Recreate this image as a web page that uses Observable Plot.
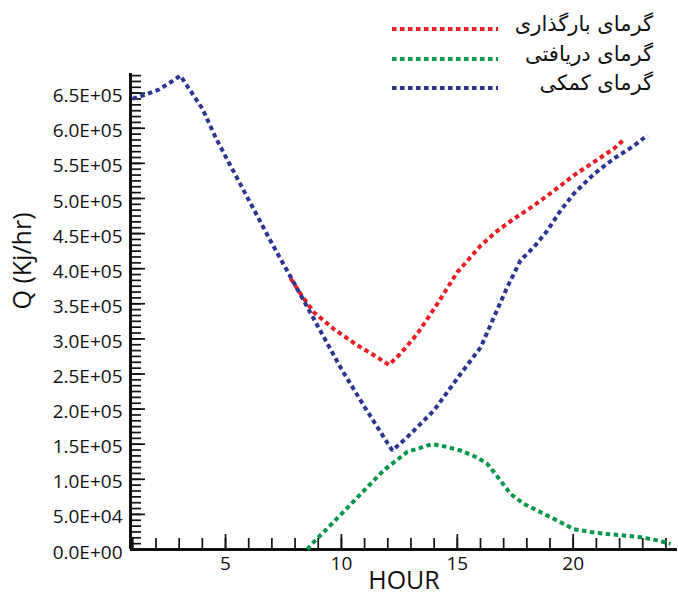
<!DOCTYPE html>
<html><head><meta charset="utf-8">
<script src="https://cdn.jsdelivr.net/npm/d3@7"></script>
<script src="https://cdn.jsdelivr.net/npm/@observablehq/plot@0.6"></script>
<style>
html,body{margin:0;padding:0;background:#fff;}
#wrap{position:relative;width:678px;height:596px;overflow:hidden;}
.leg-row{position:absolute;left:0;width:678px;height:30px;}
.leg-text{position:absolute;right:25px;font-family:'DejaVu Sans',sans-serif;font-size:21px;line-height:30px;direction:rtl;white-space:nowrap;color:#111;}
</style></head><body><div id="wrap"></div>
<script>
// ---- data ----
const seriesNames = ["گرمای بارگذاری", "گرمای دریافتی", "گرمای کمکی"];
const seriesColors = ["#ec1c24", "#00964b", "#2b3590"];

const redHours  = [7.81, 8.24, 8.81, 9.67, 10.68, 11.54, 12.05, 12.55, 13.27, 14.14, 15.0, 16.01, 16.73, 17.44, 18.31, 19.17, 20.03, 20.9, 21.76, 22.19];
const redValues = [386000, 364000, 338000, 314000, 291000, 274000, 263000, 279000, 307000, 350000, 395000, 433000, 454000, 471000, 490000, 511000, 533000, 552000, 571000, 584000];

const greenHours  = [8.53, 8.67, 9.6, 11.83, 12.84, 13.9, 14.3, 15.14, 15.86, 16.29, 16.87, 17.3, 17.87, 18.6, 19.32, 20.03, 20.75, 21.47, 22.19, 22.91, 23.63, 24.2];
const greenValues = [0, 6000, 37000, 113000, 139000, 150000, 148000, 141000, 131000, 122000, 98000, 79000, 65000, 53000, 41000, 29000, 25000, 22000, 20000, 17500, 13000, 8000];

const blueHours  = [1, 1.37, 2.12, 2.7, 3.05, 4, 4.57, 5, 6, 7, 8, 9, 10, 11, 12, 12.2, 12.84, 13.99, 15.14, 16.01, 16.58, 17.16, 17.73, 18.31, 18.88, 19.46, 20.03, 20.9, 21.76, 22.62, 23.2];
const blueValues = [642000, 646000, 655000, 667000, 675000, 628000, 587000, 560000, 498000, 436000, 377000, 317000, 257000, 203000, 151000, 141000, 160000, 198000, 250000, 288000, 331000, 374000, 412000, 431000, 454000, 483000, 507000, 535000, 557000, 575000, 590000];

const xTickLabels = [5, 10, 15, 20];
const xMinorTicks = [1, 2, 3, 4, 5, 6, 7, 8, 9, 10, 11, 12, 13, 14, 15, 16, 17, 18, 19, 20, 21, 22, 23, 24];
const yTickLabels = [0, 50000, 100000, 150000, 200000, 250000, 300000, 350000, 400000, 450000, 500000, 550000, 600000, 650000];

// ---- build ----
const toRows = (hs, vs) => hs.map((h, i) => ({h, v: vs[i]}));
const seriesData = [toRows(redHours, redValues), toRows(greenHours, greenValues), toRows(blueHours, blueValues)];
const yMinorTicks = d3.range(0, 678000, 50000 / 6);

const fmt = v => {
  if (v === 0) return "0.0E+00";
  const e = Math.floor(Math.log10(v) + 1e-9);
  const m = v / Math.pow(10, e);
  return m.toFixed(1) + "E+" + String(e).padStart(2, "0");
};

const dash = "4.5,3.5";
const lineOpts = i => ({x: "h", y: "v", stroke: seriesColors[i], strokeWidth: 4, strokeDasharray: dash, strokeLinecap: "butt", strokeLinejoin: "miter"});
const plot = Plot.plot({
  width: 678, height: 596,
  marginLeft: 130, marginRight: 1, marginTop: 73, marginBottom: 47,
  style: {fontFamily: "'Open Sans', sans-serif", background: "white", color: "#111"},
  x: {domain: [0.9, 24.5]},
  y: {domain: [0, 678000]},
  marks: [
    Plot.axisY(yMinorTicks, {tickSize: 11, dx: 11, fill: "none", label: null, strokeWidth: 1.7}),
    Plot.axisY(yTickLabels, {tickSize: 15, dx: 15, fill: "none", label: null, strokeWidth: 1.7}),
    Plot.axisY(yTickLabels, {tickSize: 0, tickPadding: 8, tickFormat: fmt, fontSize: 19, dy: 3, label: null}),
    Plot.axisX(xMinorTicks, {tickSize: 11, dy: -11, fill: "none", label: null, strokeWidth: 1.7}),
    Plot.axisX(xTickLabels, {tickSize: 15, dy: -15, fill: "none", label: null, strokeWidth: 1.7}),
    Plot.axisX(xTickLabels, {tickSize: 0, tickPadding: 7, fontSize: 19, label: null}),
    Plot.ruleY([0], {strokeWidth: 3}),
    Plot.ruleX([0.9], {strokeWidth: 3}),
    Plot.text(["HOUR"], {frameAnchor: "bottom", dy: 31, fontSize: 25, lineAnchor: "middle"}),
    Plot.text(["Q (Kj/hr)"], {frameAnchor: "left", rotate: -90, dx: -108, dy: -2, fontSize: 25, lineAnchor: "middle"}),
    Plot.line(seriesData[0], lineOpts(0)),
    Plot.line(seriesData[1], lineOpts(1)),
    Plot.line(seriesData[2], lineOpts(2))
  ]
});
const wrap = document.getElementById("wrap");
wrap.appendChild(plot);

// legend overlay
seriesNames.forEach((name, i) => {
  const lineY = 29 + i * 29.5;
  const row = document.createElement("div");
  row.className = "leg-row";
  row.style.top = (lineY - 15) + "px";
  const svgNS = "http://www.w3.org/2000/svg";
  const svg = document.createElementNS(svgNS, "svg");
  svg.setAttribute("width", 678); svg.setAttribute("height", 30);
  svg.style.position = "absolute"; svg.style.left = "0"; svg.style.top = "0";
  const ln = document.createElementNS(svgNS, "line");
  ln.setAttribute("x1", 392); ln.setAttribute("x2", 498);
  ln.setAttribute("y1", 15); ln.setAttribute("y2", 15);
  ln.setAttribute("stroke", seriesColors[i]); ln.setAttribute("stroke-width", 4);
  ln.setAttribute("stroke-dasharray", dash);
  svg.appendChild(ln);
  row.appendChild(svg);
  const t = document.createElement("div");
  t.className = "leg-text";
  t.style.top = "-5px";
  t.textContent = name;
  row.appendChild(t);
  wrap.appendChild(row);
});
</script>
</body></html>
